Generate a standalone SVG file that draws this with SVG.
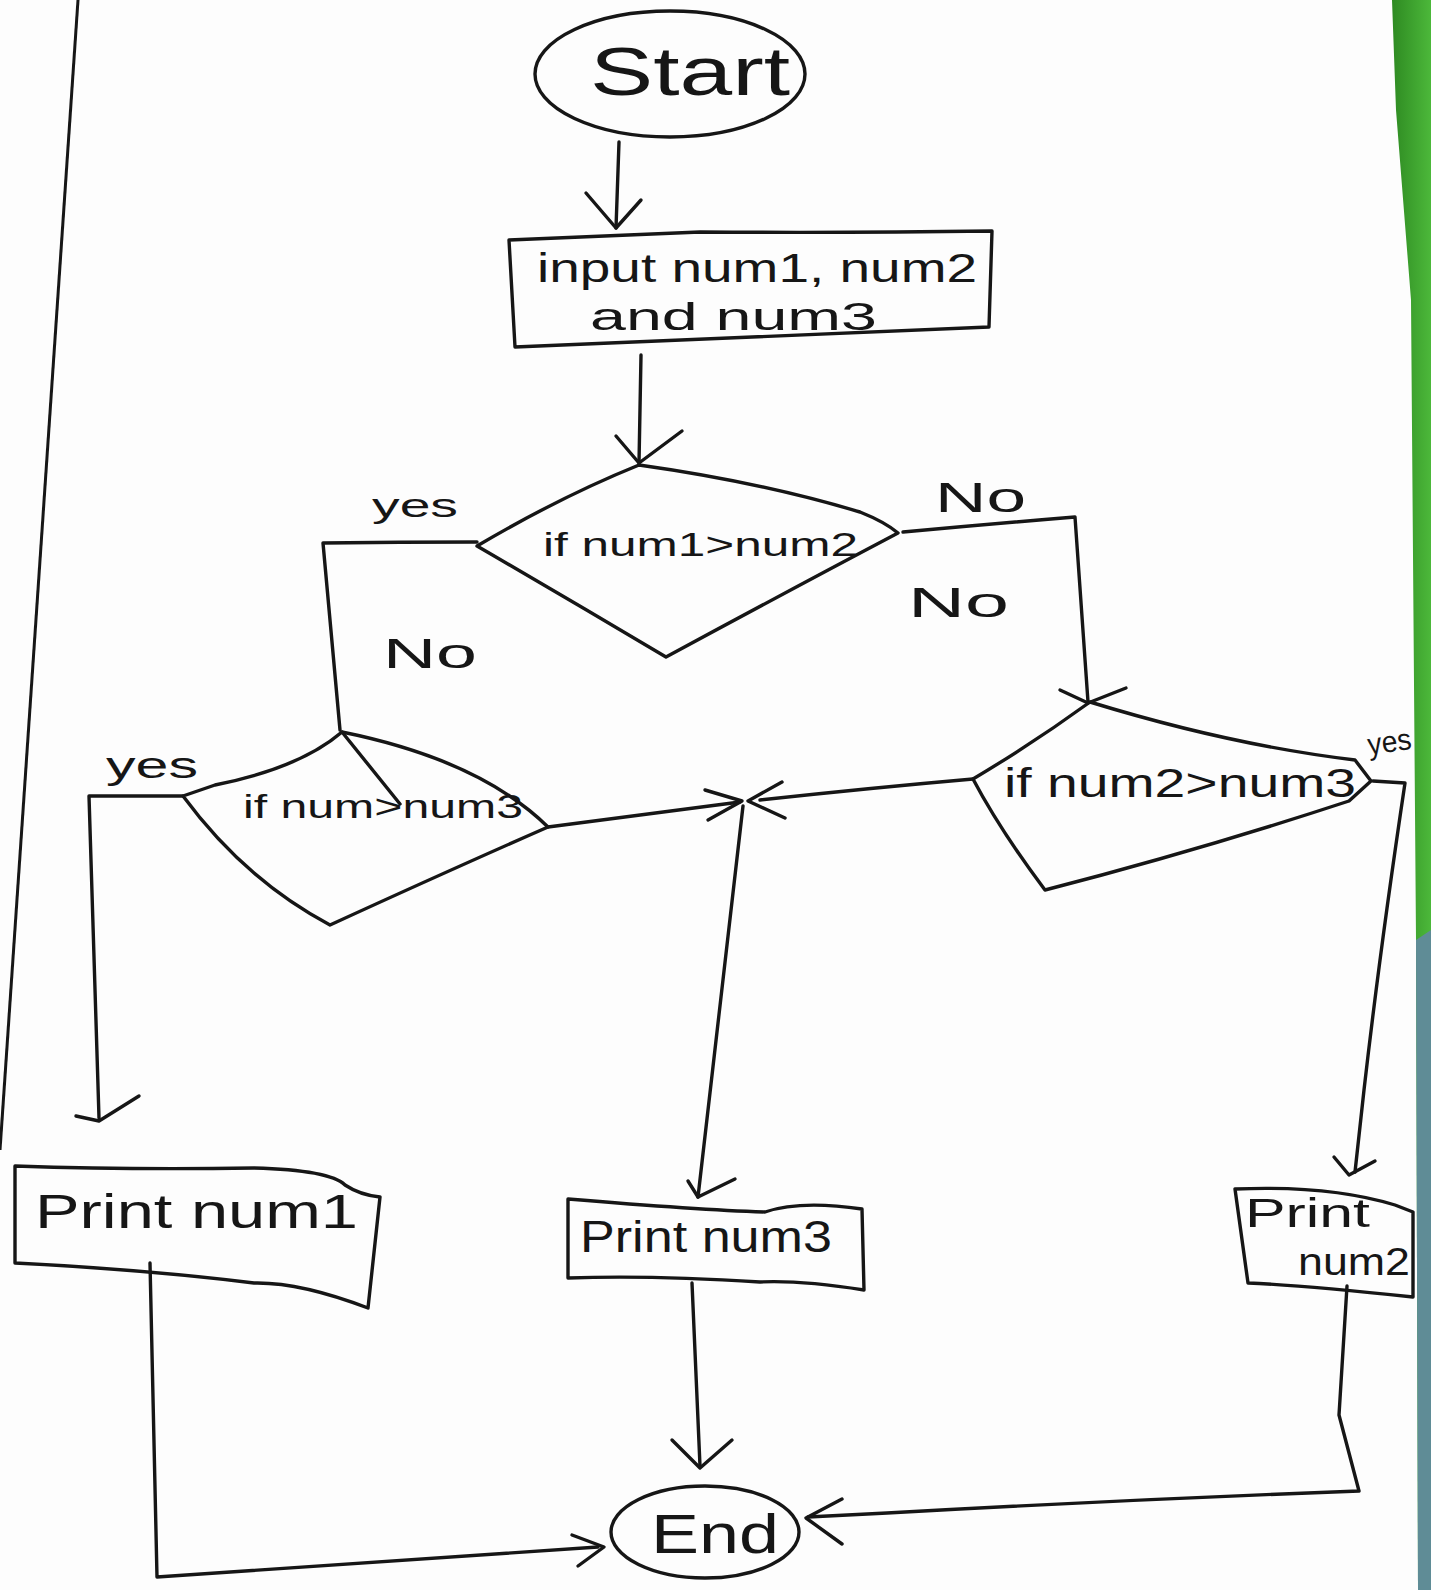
<svg xmlns="http://www.w3.org/2000/svg" width="1431" height="1590" viewBox="0 0 1431 1590">
<style>
.ink{fill:none;stroke:#161616;stroke-width:3.4;stroke-linecap:round;stroke-linejoin:round}
.shape{fill:none;stroke:#161616;stroke-width:3.4;stroke-linejoin:round}
.t{font-family:"Liberation Sans","DejaVu Sans",sans-serif;fill:#161616}
.lbl{font-family:"Liberation Sans","DejaVu Sans",sans-serif;fill:#161616}
</style>
<defs>
<linearGradient id="cloth" x1="0" y1="0" x2="1" y2="0">
<stop offset="0" stop-color="#2e8a22"/>
<stop offset="1" stop-color="#4cb83a"/>
</linearGradient>
</defs>
<g id="background">
<rect x="0" y="0" width="1431" height="1590" fill="#fdfdfd"/>
<polygon points="1392,0 1431,0 1431,1590 1418,1590 1416,940 1411,300 1396,110" fill="url(#cloth)"/>
<polygon points="1416,940 1431,930 1431,1590 1418,1590" fill="#5f8c96"/>
<line x1="78" y1="0" x2="0" y2="1150" stroke="#161616" stroke-width="3"/>
</g>
<g id="start">
<ellipse cx="670" cy="74" rx="135" ry="63" class="shape"/>
<text class="t" x="590" y="95" font-size="68" textLength="200" lengthAdjust="spacingAndGlyphs">Start</text>
</g>
<g id="input">
<path class="shape" d="M509,240 Q600,236 700,232 Q850,233 992,231 L989,327 Q760,336 515,347 Z"/>
<text class="t" x="537" y="282" font-size="40" textLength="440" lengthAdjust="spacingAndGlyphs">input num1, num2</text>
<text class="t" x="590" y="330" font-size="38" textLength="287" lengthAdjust="spacingAndGlyphs">and num3</text>
</g>
<g id="d1">
<path class="shape" d="M639,465 Q760,482 860,512 Q885,522 898,533 Q790,590 666,657 Q570,600 477,546 Q560,497 639,465 Z"/>
<text class="t" x="543" y="556" font-size="33" textLength="315" lengthAdjust="spacingAndGlyphs">if num1&gt;num2</text>
</g>
<g id="d2">
<path class="shape" d="M342,732 Q300,768 215,785 L183,796 Q245,880 330,925 Q450,870 548,827 Q480,760 342,732 Z"/>
<line class="ink" x1="342" y1="732" x2="400" y2="804"/>
<text class="t" x="243" y="818" font-size="33" textLength="280" lengthAdjust="spacingAndGlyphs">if num&gt;num3</text>
</g>
<g id="d3">
<path class="shape" d="M1090,702 Q1230,745 1355,760 L1371,781 L1349,801 Q1200,850 1045,890 Q1000,830 973,779 Q1035,742 1090,702 Z"/>
<text class="t" x="1004" y="797" font-size="40" textLength="352" lengthAdjust="spacingAndGlyphs">if num2&gt;num3</text>
</g>
<g id="print1">
<path class="shape" d="M15,1166 Q130,1170 254,1168 Q330,1170 345,1185 Q360,1195 380,1197 L368,1308 Q300,1282 254,1283 Q150,1270 15,1263 Z"/>
<text class="t" x="35" y="1228" font-size="48" textLength="323" lengthAdjust="spacingAndGlyphs">Print num1</text>
</g>
<g id="print3">
<path class="shape" d="M568,1199 Q700,1210 765,1212 Q800,1200 862,1209 L864,1290 Q800,1280 760,1282 Q650,1275 568,1278 Z"/>
<text class="t" x="580" y="1252" font-size="44" textLength="252" lengthAdjust="spacingAndGlyphs">Print num3</text>
</g>
<g id="print2">
<path class="shape" d="M1235,1189 Q1330,1185 1395,1205 L1413,1212 L1413,1297 Q1300,1285 1248,1283 Z"/>
<text class="t" x="1245" y="1227" font-size="40" textLength="125" lengthAdjust="spacingAndGlyphs">Print</text>
<text class="t" x="1298" y="1275" font-size="38" textLength="112" lengthAdjust="spacingAndGlyphs">num2</text>
</g>
<g id="end">
<ellipse cx="705" cy="1532" rx="94" ry="46" class="shape"/>
<text class="t" x="651" y="1553" font-size="56" textLength="128" lengthAdjust="spacingAndGlyphs">End</text>
</g>
<g id="connectors">
<path class="ink" d="M619,142 L616,228"/>
<path class="ink" d="M586,193 L616,228 L641,200"/>
<path class="ink" d="M641,355 L639,463"/>
<path class="ink" d="M616,436 L639,463 L682,431"/>
<path class="ink" d="M477,542 Q400,542 323,543 L340,730"/>
<path class="ink" d="M903,532 Q990,524 1075,517 L1088,702"/>
<path class="ink" d="M1060,690 L1088,703 L1126,688"/>
<path class="ink" d="M183,796 L89,796 L99,1118"/>
<path class="ink" d="M76,1116 L99,1121 L139,1096"/>
<path class="ink" d="M548,827 L740,802"/>
<path class="ink" d="M973,779 Q870,788 760,800"/>
<path class="ink" d="M705,790 L742,801 L708,820"/>
<path class="ink" d="M782,782 L748,801 L785,818"/>
<path class="ink" d="M743,806 L698,1197"/>
<path class="ink" d="M688,1181 L698,1197 L735,1179"/>
<path class="ink" d="M1373,781 L1405,783 Q1380,950 1364,1090 L1355,1172"/>
<path class="ink" d="M1334,1157 L1349,1175 L1375,1161"/>
<path class="ink" d="M150,1263 L157,1577 L598,1547"/>
<path class="ink" d="M572,1535 L604,1547 L578,1566"/>
<path class="ink" d="M692,1283 L700,1466"/>
<path class="ink" d="M672,1440 L700,1468 L732,1440"/>
<path class="ink" d="M1347,1286 L1339,1415 L1359,1491 Q1120,1500 887,1513 L808,1517"/>
<path class="ink" d="M842,1499 L806,1518 L842,1544"/>
<text class="lbl" x="372" y="517" font-size="34" textLength="86" lengthAdjust="spacingAndGlyphs">yes</text>
<text class="lbl" x="383" y="668" font-size="42" textLength="94" lengthAdjust="spacingAndGlyphs">No</text>
<text class="lbl" x="935" y="512" font-size="42" textLength="91" lengthAdjust="spacingAndGlyphs">No</text>
<text class="lbl" x="908" y="617" font-size="42" textLength="101" lengthAdjust="spacingAndGlyphs">No</text>
<text class="lbl" x="106" y="778" font-size="36" textLength="92" lengthAdjust="spacingAndGlyphs">yes</text>
<text class="lbl" x="1367" y="752" font-size="30" textLength="44" lengthAdjust="spacingAndGlyphs" transform="rotate(-8 1389 740)">yes</text>
</g>
</svg>
